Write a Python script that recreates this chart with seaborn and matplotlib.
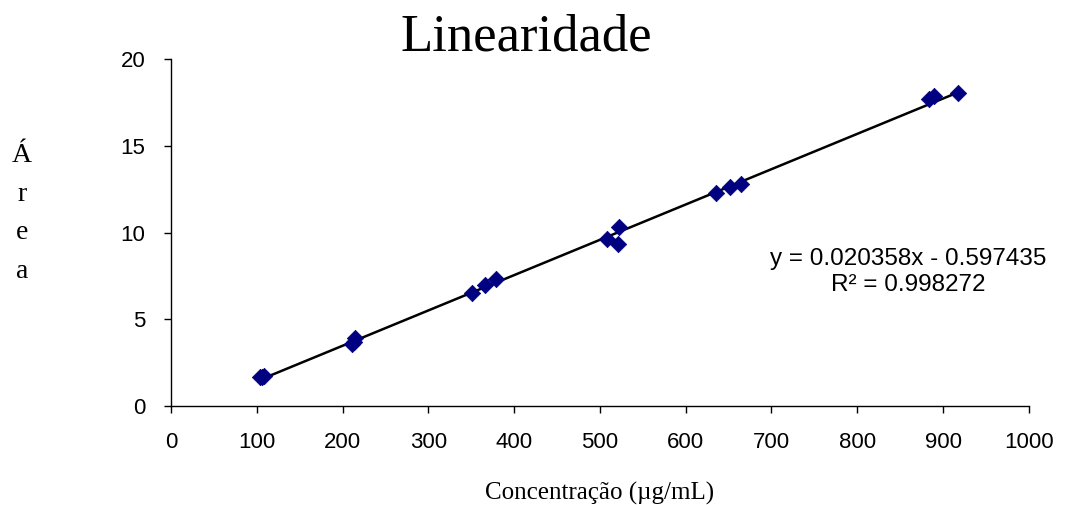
import numpy as np
import pandas as pd
import matplotlib
matplotlib.use("Agg")
import matplotlib.pyplot as plt
import seaborn as sns

# Calibration data: concentration (µg/mL) vs peak area
concentracao = [104, 106, 108, 211, 213, 215, 351, 366, 379,
                508, 521, 522, 635, 652, 665, 884, 890, 917]
area = [1.65, 1.70, 1.75, 3.55, 3.70, 3.90, 6.50, 6.95, 7.30,
        9.60, 9.35, 10.30, 12.30, 12.60, 12.80, 17.70, 17.85, 18.05]

# Linear fit as reported
slope = 0.020358
intercept = -0.597435
r2 = 0.998272

x_ticks = [0, 100, 200, 300, 400, 500, 600, 700, 800, 900, 1000]
y_ticks = [0, 5, 10, 15, 20]

sns.set_style("ticks")
plt.rcParams["font.family"] = ["Liberation Sans", "DejaVu Sans"]
plt.rcParams["text.color"] = "black"

fig = plt.figure(figsize=(10.65, 5.05), dpi=100)
ax = fig.add_axes([0.1606, 0.196, 0.8054, 0.687])

df = pd.DataFrame({"x": concentracao, "y": area})
xs = np.array([min(concentracao), max(concentracao)])
fit = pd.DataFrame({"x": xs, "y": slope * xs + intercept})

sns.lineplot(data=fit, x="x", y="y", ax=ax, color="black", linewidth=1.8, zorder=2)
sns.scatterplot(data=df, x="x", y="y", ax=ax, marker="D", s=70,
                color="#000080", edgecolor="#000080", linewidth=0.5, zorder=3)

ax.set_xlim(0, 1000)
ax.set_ylim(0, 20)
ax.set_xticks(x_ticks)
ax.set_yticks(y_ticks)
ax.tick_params(axis="both", labelsize=16, length=5, width=1, color="black",
               labelcolor="black", direction="out")
ax.tick_params(axis="x", pad=14)
ax.tick_params(axis="y", pad=13.5)
for s in ["top", "right"]:
    ax.spines[s].set_visible(False)
for s in ["left", "bottom"]:
    ax.spines[s].set_color("black")
    ax.spines[s].set_linewidth(1)

ax.set_xlabel("")
ax.set_ylabel("")

serif = ["Liberation Serif", "DejaVu Serif"]
fig.text(0.494, 0.925, "Linearidade", family=serif, fontsize=38,
         ha="center", va="center", color="black")
fig.text(0.563, 0.022, "Concentração (µg/mL)", family=serif, fontsize=18,
         ha="center", va="center", color="black")
for i, ch in enumerate("Área"):
    fig.text(0.0205, 0.692 - i * 0.0765, ch, family=serif, fontsize=20,
             ha="center", va="center", color="black")

ax.text(0.853, 0.461, f"y = {slope:.6f}x - {abs(intercept):.6f}\nR² = {r2:.6f}",
        transform=fig.transFigure, fontsize=17.5, ha="center", va="center",
        linespacing=1.2, color="black")

fig.savefig("out.png", dpi=100)
